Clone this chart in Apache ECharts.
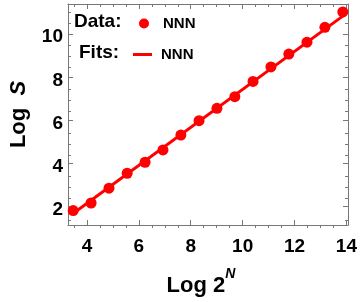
<!DOCTYPE html>
<html><head><meta charset="utf-8">
<script src="https://cdn.jsdelivr.net/npm/echarts@6/dist/echarts.min.js"></script>
<style>html,body{margin:0;padding:0;background:#fff}#c{width:360px;height:302px}</style>
</head><body><div id="c"></div>
<script>
const dataX = [3.47, 4.16, 4.85, 5.55, 6.24, 6.93, 7.62, 8.32, 9.01, 9.70, 10.40, 11.09, 11.78, 12.48, 13.17, 13.86];
const dataY = [1.82, 2.17, 2.86, 3.55, 4.06, 4.63, 5.32, 5.99, 6.56, 7.10, 7.81, 8.48, 9.08, 9.63, 10.32, 11.03];
const fitX = [3.44, 13.95];
const fitY = [1.66, 10.92];
const xMajor = [4, 6, 8, 10, 12, 14];
const xMinor = [3.5, 4.5, 5, 5.5, 6.5, 7, 7.5, 8.5, 9, 9.5, 10.5, 11, 11.5, 12.5, 13, 13.5];
const yMajor = [2, 4, 6, 8, 10];
const yMinor = [1.5, 2.5, 3, 3.5, 4.5, 5, 5.5, 6.5, 7, 7.5, 8.5, 9, 9.5, 10.5, 11];
const xRange = [3.27, 14.06];
const yRange = [1.15, 11.4];

const RED = '#f00';
const FRAME = '#777';
const FONT = 'Liberation Sans';

function mkAxis(gridIndex, position, range, ticks, len, withLine, extra) {
  return Object.assign({
    type: 'value', gridIndex, position, min: range[0], max: range[1],
    axisLine: { show: withLine, onZero: false, lineStyle: { color: FRAME, width: 1 } },
    axisTick: { show: true, inside: true, length: len, customValues: ticks, lineStyle: { color: FRAME, width: 1 } },
    axisLabel: { show: false },
    splitLine: { show: false },
    minorTick: { show: false }
  }, extra || {});
}

const labelStyle = { show: true, fontFamily: FONT, fontWeight: 'bold', fontSize: 19, color: '#000' };

const chart = echarts.init(document.getElementById('c'));
chart.setOption({
  animation: false,
  backgroundColor: '#fff',
  grid: [
    { left: 68, right: 12, top: 4, bottom: 74 },
    { left: 68, right: 12, top: 4, bottom: 74 }
  ],
  xAxis: [
    mkAxis(0, 'bottom', xRange, xMajor, 5, true, {
      axisLabel: Object.assign({ margin: 12, customValues: xMajor }, labelStyle),
      name: '{a|Log 2}{b|N}', nameLocation: 'middle', nameGap: 42,
      nameTextStyle: {
        padding: [0, 14, 0, 0],
        rich: {
          a: { fontFamily: FONT, fontWeight: 'bold', fontSize: 22, color: '#000', lineHeight: 30, verticalAlign: 'bottom' },
          b: { fontFamily: FONT, fontWeight: 'bold', fontStyle: 'italic', fontSize: 14, color: '#000', lineHeight: 18, verticalAlign: 'top' }
        }
      }
    }),
    mkAxis(0, 'top', xRange, xMajor, 5, true),
    mkAxis(1, 'bottom', xRange, xMinor, 3, false),
    mkAxis(1, 'top', xRange, xMinor, 3, false)
  ],
  yAxis: [
    mkAxis(0, 'left', yRange, yMajor, 5, true, {
      axisLabel: Object.assign({
        margin: 5, customValues: yMajor,
        formatter: v => '{t|' + v + '}',
        rich: { t: { fontFamily: FONT, fontWeight: 'bold', fontSize: 19, color: '#000', padding: [6, 0, 0, 0] } }
      }, labelStyle),
      name: '{a|Log  }{b|S}', nameLocation: 'middle', nameGap: 38, nameRotate: 90,
      nameTextStyle: {
        rich: {
          a: { fontFamily: FONT, fontWeight: 'bold', fontSize: 22, color: '#000' },
          b: { fontFamily: FONT, fontWeight: 'bold', fontStyle: 'italic', fontSize: 22, color: '#000' }
        }
      }
    }),
    mkAxis(0, 'right', yRange, yMajor, 5, true),
    mkAxis(1, 'left', yRange, yMinor, 3, false),
    mkAxis(1, 'right', yRange, yMinor, 3, false)
  ],
  legend: [
    {
      data: [{ name: 'data', icon: 'circle' }], left: 134, top: 11, itemWidth: 10, itemHeight: 10,
      selectedMode: false, formatter: () => 'NNN',
      textStyle: { fontFamily: FONT, fontWeight: 'bold', fontSize: 15, color: '#000', padding: [0, 0, 0, 9] }
    },
    {
      data: [{ name: 'fit', icon: 'rect' }], left: 128, top: 42, itemWidth: 19, itemHeight: 3,
      selectedMode: false, formatter: () => 'NNN',
      textStyle: { fontFamily: FONT, fontWeight: 'bold', fontSize: 15, color: '#000', padding: [0, 0, 0, 4] }
    }
  ],
  graphic: [
    { type: 'text', left: 74, top: 12, style: { text: 'Data:', font: 'bold 19px "Liberation Sans"', fill: '#000' } },
    { type: 'text', left: 79, top: 43, style: { text: 'Fits:', font: 'bold 19px "Liberation Sans"', fill: '#000' } }
  ],
  series: [
    {
      name: 'fit', type: 'line', xAxisIndex: 0, yAxisIndex: 0, showSymbol: false, symbol: 'none',
      data: fitX.map((x, i) => [x, fitY[i]]),
      lineStyle: { color: RED, width: 3 }, itemStyle: { color: RED }, z: 2
    },
    {
      name: 'data', type: 'scatter', xAxisIndex: 0, yAxisIndex: 0, symbolSize: 11,
      data: dataX.map((x, i) => [x, dataY[i]]),
      itemStyle: { color: RED, opacity: 1 }, z: 3
    }
  ]
});
</script></body></html>
